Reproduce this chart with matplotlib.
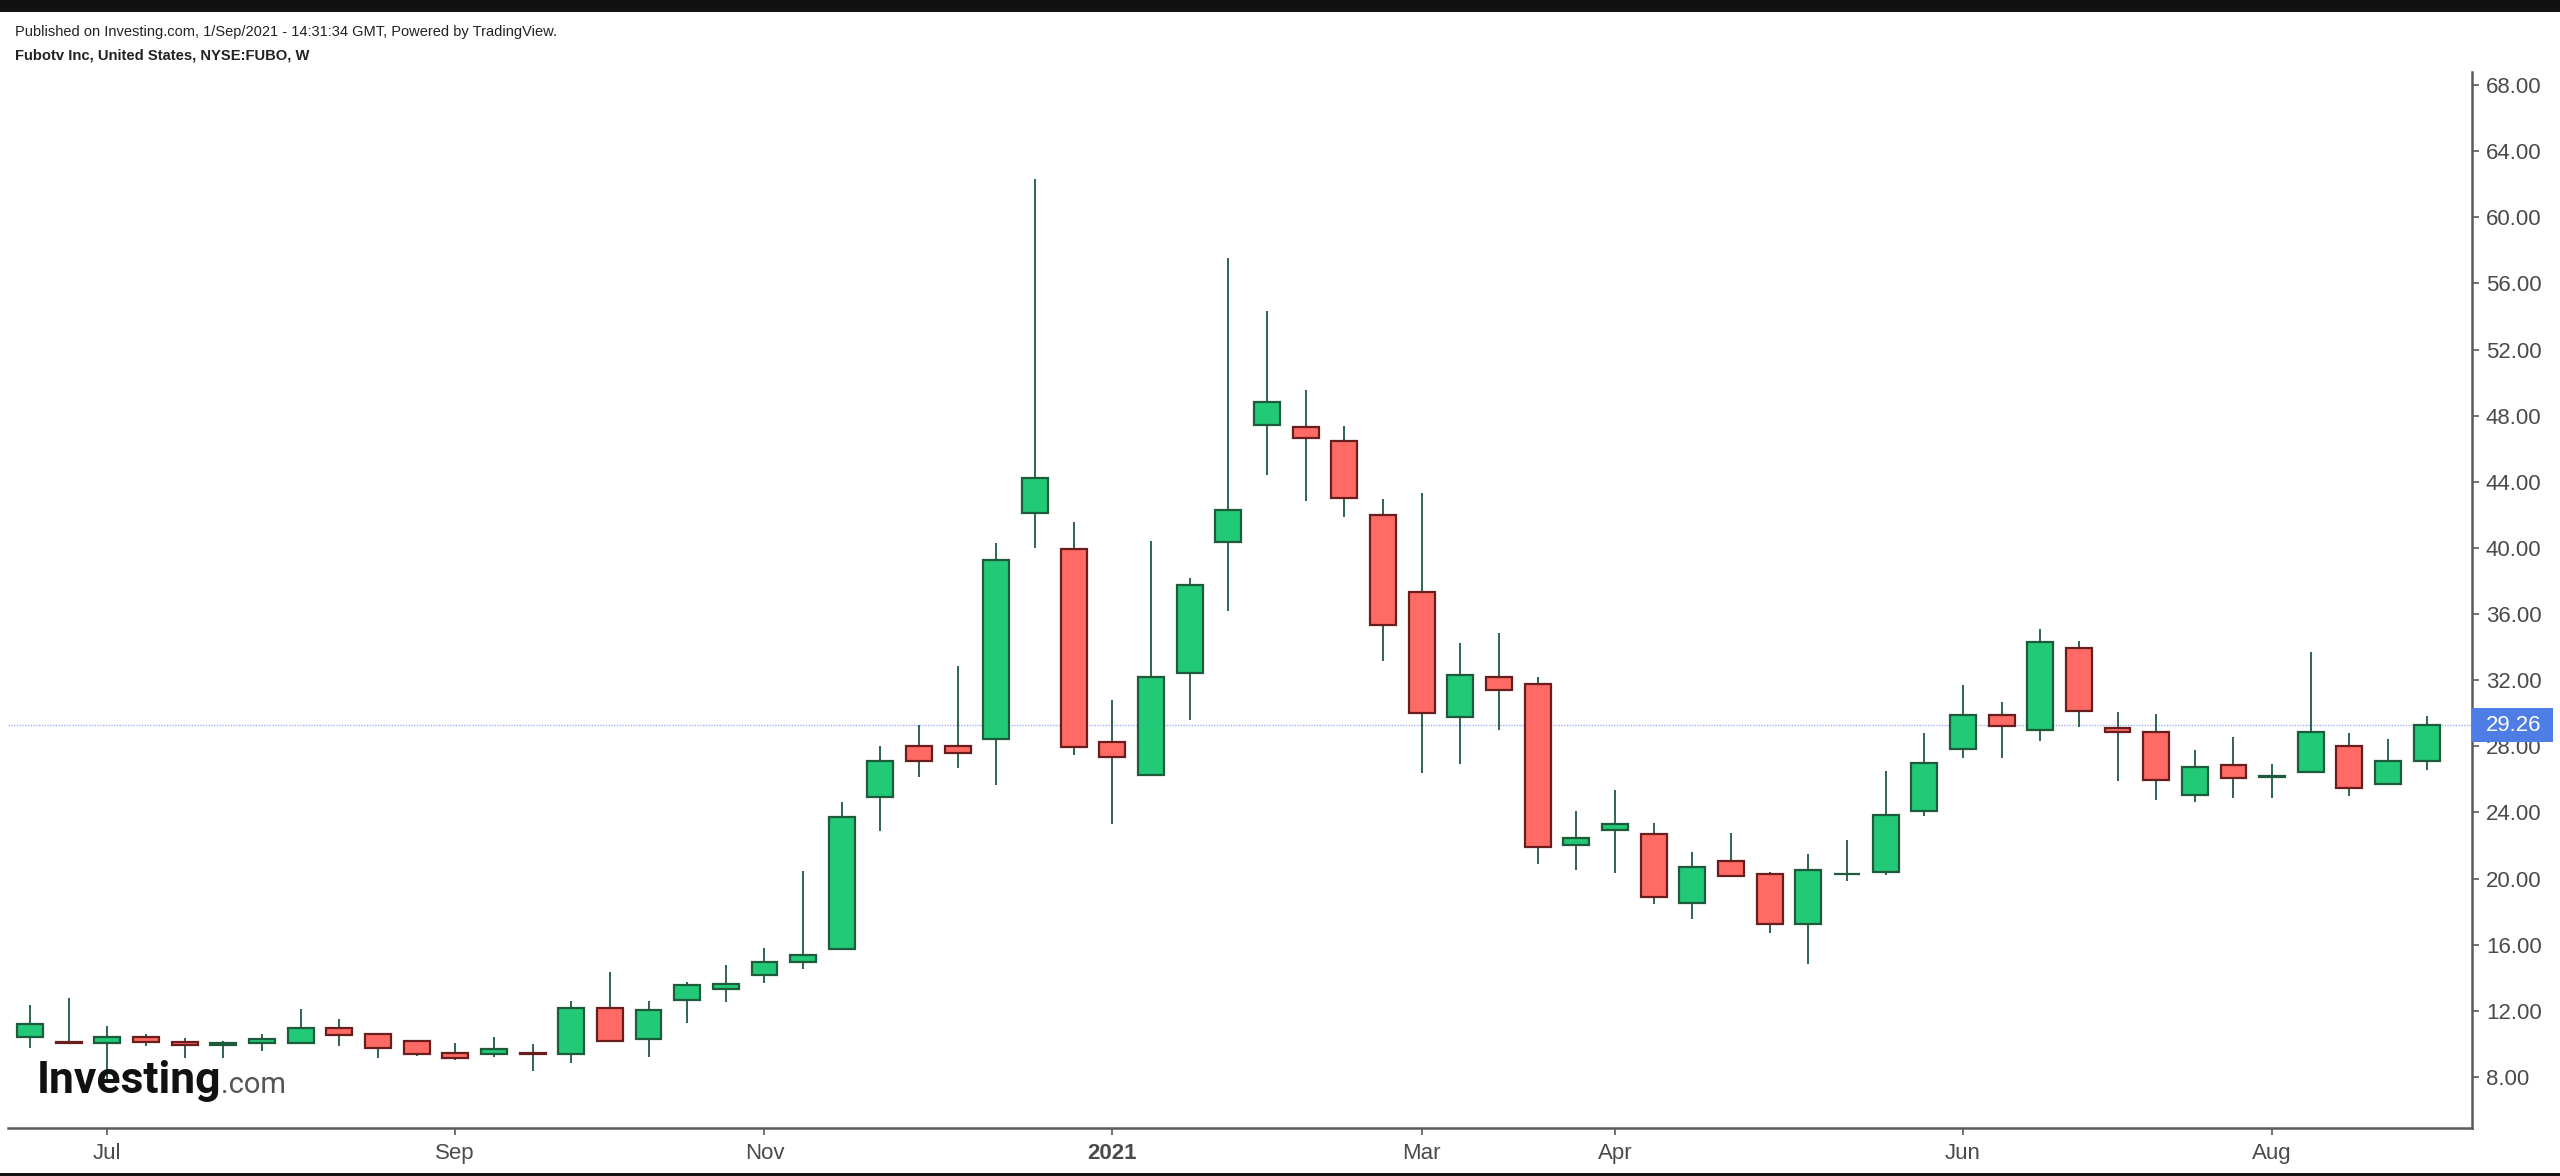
import matplotlib
matplotlib.use('Agg')
import matplotlib.pyplot as plt
import matplotlib.dates as mdates
import matplotlib.transforms as mtransforms
from matplotlib.patches import Rectangle
import numpy as np
import pandas as pd

# ---------------- data (weekly candles, FUBO) ----------------
week_start = '2020-06-22'
n_weeks = 63
opens = [10.40, 10.10, 10.04, 10.44, 10.10, 9.92, 10.04, 10.04, 10.94, 10.58,
         10.18, 9.43, 9.39, 9.45, 9.39, 12.19, 10.28, 12.68, 13.30, 14.19,
         14.96, 15.72, 24.94, 28.00, 28.02, 28.47, 42.11, 39.91, 28.27, 26.25,
         32.41, 40.36, 47.46, 47.34, 46.47, 42.02, 37.35, 29.77, 32.17, 31.77,
         22.03, 22.94, 22.70, 18.50, 21.05, 20.30, 17.25, 20.25, 20.40, 24.09,
         27.84, 29.90, 29.00, 33.95, 29.13, 28.89, 25.08, 26.87, 26.12, 26.47,
         28.02, 25.72, 27.09]
highs = [12.35, 12.76, 11.10, 10.58, 10.34, 10.20, 10.60, 12.09, 11.49, 10.62,
         10.20, 10.08, 10.44, 9.98, 12.61, 14.37, 12.61, 13.73, 14.77, 15.78,
         20.46, 24.61, 28.04, 29.29, 32.84, 40.30, 62.32, 41.56, 30.82, 40.42,
         38.16, 57.51, 54.32, 49.53, 47.37, 42.95, 43.31, 34.23, 34.88, 32.21,
         24.11, 25.38, 23.34, 21.59, 22.74, 20.42, 21.47, 22.35, 26.53, 28.79,
         31.71, 30.70, 35.12, 34.37, 30.06, 29.94, 27.78, 28.55, 26.91, 33.72,
         28.79, 28.42, 29.82]
lows = [9.73, 10.04, 7.80, 9.87, 9.13, 9.13, 9.59, 10.00, 9.87, 9.13,
        9.27, 9.01, 9.23, 8.33, 8.87, 10.12, 9.23, 11.25, 12.52, 13.67,
        14.55, 15.65, 22.88, 26.16, 26.69, 25.65, 39.97, 27.45, 23.27, 26.20,
        29.59, 36.18, 44.39, 42.86, 41.86, 33.17, 26.37, 26.95, 28.97, 20.87,
        20.50, 20.36, 18.46, 17.58, 20.10, 16.69, 14.82, 19.86, 20.24, 23.77,
        27.31, 27.31, 28.32, 29.19, 25.90, 24.75, 24.65, 24.89, 24.89, 26.40,
        25.02, 25.70, 26.55]
closes = [11.21, 10.06, 10.44, 10.14, 9.92, 10.05, 10.32, 10.94, 10.54, 9.77,
          9.39, 9.13, 9.69, 9.40, 12.19, 10.16, 12.05, 13.59, 13.63, 14.98,
          15.38, 23.71, 27.13, 27.09, 27.60, 39.25, 44.22, 27.98, 27.36, 32.17,
          37.74, 42.28, 48.81, 46.68, 43.01, 35.34, 30.01, 32.30, 31.41, 21.93,
          22.44, 23.30, 18.91, 20.68, 20.16, 17.25, 20.54, 20.30, 23.82, 26.99,
          29.90, 29.25, 34.33, 30.14, 28.85, 25.94, 26.75, 26.07, 26.20, 28.89,
          25.46, 27.13, 29.26]
last_price = 29.26
month_tick_dates = ['2020-07-06', '2020-09-07', '2020-11-02', '2021-01-04',
                    '2021-03-01', '2021-04-05', '2021-06-07', '2021-08-02']
month_tick_labels = ['Jul', 'Sep', 'Nov', '2021', 'Mar', 'Apr', 'Jun', 'Aug']
price_ticks = list(range(8, 69, 4))

# ---------------- styling ----------------
GREEN_FILL = '#22C977'
GREEN_EDGE = '#1E5B3B'
RED_FILL = '#FF6B64'
RED_EDGE = '#6A1D1D'
WICK = '#1E5B3B'
AXIS_COL = '#5a5a5a'
LABEL_COL = '#4a4a4a'

W, H = 2560, 1176
fig = plt.figure(figsize=(W / 100, H / 100), dpi=100)
fig.patch.set_facecolor('white')

ax_left, ax_right, ax_bottom, ax_top = 8, 2472, 1128, 72
ax = fig.add_axes([ax_left / W, (H - ax_bottom) / H,
                   (ax_right - ax_left) / W, (ax_bottom - ax_top) / H])

dates = pd.date_range(week_start, periods=n_weeks, freq='W-MON')
x = mdates.date2num(dates.to_pydatetime())
o = np.array(opens); h = np.array(highs); l = np.array(lows); c = np.array(closes)
up = c >= o

body_w = 4.7  # days
ax.vlines(x, l, h, color=WICK, lw=1.3, zorder=2)
bottoms = np.minimum(o, c)
heights = np.maximum(np.abs(c - o), 0.02)
ax.bar(x[up], heights[up], bottom=bottoms[up], width=body_w,
       color=GREEN_FILL, edgecolor=GREEN_EDGE, linewidth=1.6, zorder=3)
ax.bar(x[~up], heights[~up], bottom=bottoms[~up], width=body_w,
       color=RED_FILL, edgecolor=RED_EDGE, linewidth=1.6, zorder=3)

# axes limits
x0 = x[0]
ax.set_xlim(x0 - 0.569 * 7, x0 + 63.17 * 7)
ax.set_ylim(4.91, 68.79)

# last price line
ax.axhline(last_price, color='#9db3f2', lw=1.0, linestyle=(0, (1, 1)), zorder=1)

# spines
for s in ['left', 'top']:
    ax.spines[s].set_visible(False)
for s in ['right', 'bottom']:
    ax.spines[s].set_color(AXIS_COL)
    ax.spines[s].set_linewidth(1.8)

ax.yaxis.tick_right()
ax.set_yticks(price_ticks)
ax.set_yticklabels([f'{v:.2f}' for v in price_ticks])
ax.tick_params(axis='y', colors=AXIS_COL, labelcolor=LABEL_COL, length=5,
               width=1.2, pad=5, labelsize=16)
tick_pos = mdates.date2num(pd.to_datetime(month_tick_dates).to_pydatetime())
ax.set_xticks(tick_pos)
ax.set_xticklabels(month_tick_labels)
ax.tick_params(axis='x', colors=AXIS_COL, labelcolor=LABEL_COL, length=5,
               width=1.2, pad=6, labelsize=16)
for lab in ax.get_xticklabels():
    lab.set_fontfamily('Liberation Sans')
    if lab.get_text() == '2021':
        lab.set_fontweight('bold')
for lab in ax.get_yticklabels():
    lab.set_fontfamily('Liberation Sans')

# last price label box
trans = mtransforms.blended_transform_factory(ax.transAxes, ax.transData)
box_w = 81 / (ax_right - ax_left)
box_h = 34 / ((ax_bottom - ax_top) / (68.79 - 4.91))
ax.add_patch(Rectangle((1.0, last_price - box_h / 2), box_w, box_h,
                       transform=trans, clip_on=False, facecolor='#4F7DE6',
                       edgecolor='none', zorder=10))
ax.text(1.0 + 14 / (ax_right - ax_left), last_price, f'{last_price:.2f}',
        transform=trans, ha='left', va='center', color='white', fontsize=16,
        family='Liberation Sans', zorder=11, clip_on=False)

# header texts
fig.text(15 / W, (H - 32) / H,
         'Published on Investing.com, 1/Sep/2021 - 14:31:34 GMT, Powered by TradingView.',
         ha='left', va='center', fontsize=10.5, color='#222222', family='Liberation Sans')
fig.text(15 / W, (H - 55) / H, 'Fubotv Inc, United States, NYSE:FUBO, W',
         ha='left', va='center', fontsize=10.6, color='#222222', fontweight='bold',
         family='Liberation Sans')

# logo
fig.text(37 / W, (H - 1093) / H, 'Investing', ha='left', va='baseline',
         fontsize=32, fontweight='bold', color='#111111', family='Roboto', zorder=20)
fig.text(221 / W, (H - 1093) / H, '.com', ha='left', va='baseline',
         fontsize=21, color='#555555', family='Roboto', zorder=20)

# black bars top and bottom
fig.patches.append(Rectangle((0, (H - 12) / H), 1, 12 / H, transform=fig.transFigure,
                             facecolor='#111111', edgecolor='none', zorder=30))
fig.patches.append(Rectangle((0, 0), 1, 3 / H, transform=fig.transFigure,
                             facecolor='#111111', edgecolor='none', zorder=30))

fig.savefig('out.png', dpi=100, facecolor='white')
